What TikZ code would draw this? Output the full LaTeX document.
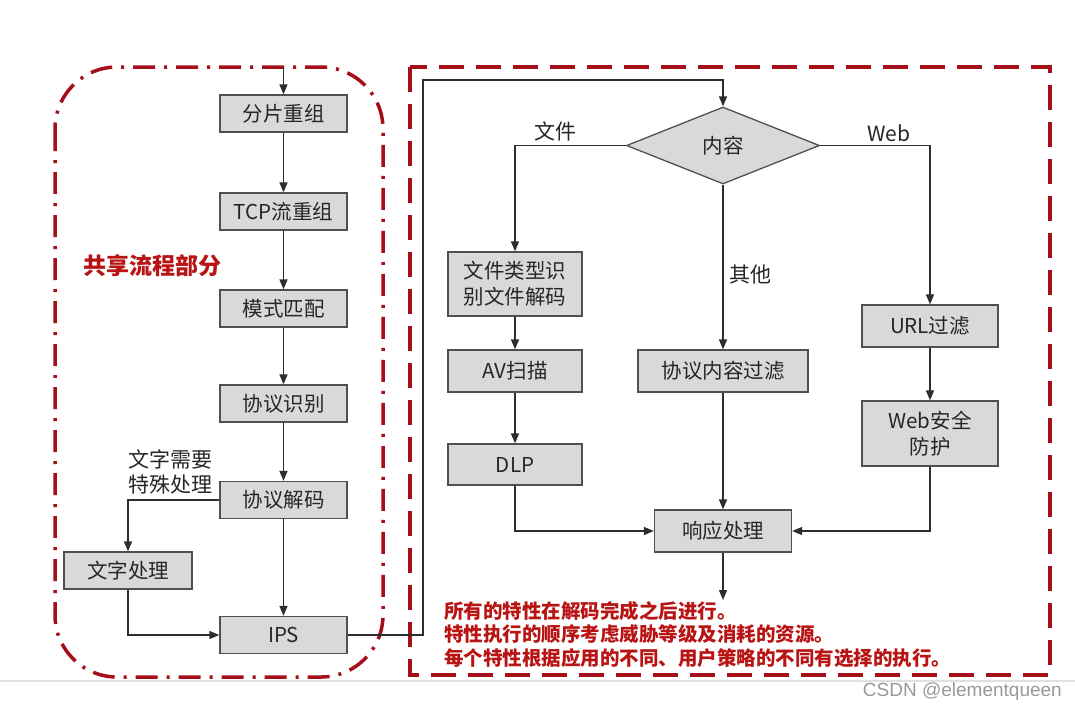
\documentclass[tikz,border=0pt]{standalone}
\usepackage{fontspec}
\newfontfamily\cjk{Noto Sans CJK SC}
\newfontfamily\wmfont{Liberation Sans}
\usetikzlibrary{arrows.meta,shapes.geometric,calc}
\definecolor{boxfill}{RGB}{217,217,217}
\definecolor{boxline}{RGB}{80,80,80}
\definecolor{linec}{RGB}{45,45,45}
\definecolor{framered}{RGB}{165,15,25}
\definecolor{notered}{RGB}{185,20,20}
\tikzset{
  stepbox/.style={draw=boxline, fill=boxfill, line width=1.3pt, inner sep=0pt,
    minimum width=127pt, minimum height=37pt, align=center,
    font=\cjk\fontsize{20.5}{26}\selectfont, text=black!85},
  decision/.style={draw=boxline, fill=boxfill, line width=1.3pt, diamond, inner sep=0pt,
    minimum width=193pt, minimum height=77pt, font=\cjk\fontsize{20.5}{22}\selectfont, text=black!85},
  flow/.style={draw=linec, line width=1.4pt, -{Triangle[length=10pt,width=8pt]}},
  lbl/.style={font=\cjk\fontsize{21}{25}\selectfont, text=black!85, inner sep=0pt, align=center},
  note/.style={font=\cjk\bfseries\fontsize{19.5}{23.5}\selectfont, text=notered, inner sep=0pt, align=left}
}
\begin{document}
\begin{tikzpicture}[x=1pt,y=-1pt]
\useasboundingbox (0,0) rectangle (1075,710);
\fill[white] (0,0) rectangle (1075,710);

% shared-processing frame and per-feature frame
\draw[framered, line width=3.5pt, rounded corners=62pt, dash pattern=on 22pt off 9pt on 3pt off 9pt]
  (55,67) rectangle (383,677);
\draw[framered, line width=3.5pt, dash pattern=on 25pt off 12pt] (410,67) rectangle (1050,675);
\draw[black!12, line width=1.5pt] (0,681) -- (1075,681);

% shared pipeline
\coordinate (entry) at (283.5,67);
\node[stepbox] (frag) at (283.5,113.5) {分片重组};
\node[stepbox] (tcp)  at (283.5,211.5) {TCP流重组};
\node[stepbox] (pat)  at (283.5,308.5) {模式匹配};
\node[stepbox] (pid)  at (283.5,403.5) {协议识别};
\node[stepbox] (dec)  at (283.5,500)   {协议解码};
\node[stepbox, minimum width=128pt] (txt) at (128,570.5) {文字处理};
\node[stepbox] (ips)  at (283.5,635)   {IPS};

\node[font=\cjk\bfseries\fontsize{23}{26}\selectfont, text=notered, inner sep=0pt] (shared) at (152,266) {共享流程部分};
\node[lbl] (special) at (170,472) {文字需要\\特殊处理};

\draw[flow] (entry) -- (frag);
\draw[flow] (frag) -- (tcp);
\draw[flow] (tcp) -- (pat);
\draw[flow] (pat) -- (pid);
\draw[flow] (pid) -- (dec);
\draw[flow] (dec) -- (ips);
\draw[flow] (dec.west) -| (txt.north);
\draw[flow] (txt.south) |- (ips.west);

% content dispatch
\node[decision] (dia) at (723,145.5) {内容};
\node[stepbox, minimum width=134pt, minimum height=64pt] (ftype) at (515,284) {文件类型识\\别文件解码};
\node[stepbox, minimum width=134pt, minimum height=42pt] (av)  at (515,371) {AV扫描};
\node[stepbox, minimum width=134pt, minimum height=41pt] (dlp) at (515,464.5) {DLP};
\node[stepbox, minimum width=170pt, minimum height=42pt] (pcf) at (723,371) {协议内容过滤};
\node[stepbox, minimum width=136pt, minimum height=42pt] (url) at (930,326) {URL过滤};
\node[stepbox, minimum width=136pt, minimum height=65pt] (web) at (930,433.5) {Web安全\\防护};
\node[stepbox, minimum width=137pt, minimum height=42pt] (resp) at (723,531) {响应处理};

\node[lbl] (lfile)  at (555,131) {文件};
\node[lbl] (lweb)   at (889,133) {Web};
\node[lbl] (lother) at (750,275) {其他};

\coordinate (bend) at (423,80);
\coordinate (out) at (723,600);
\draw[flow] (ips.east) -- (ips.east -| bend) -- (bend) -| (dia.north);
\draw[flow] (dia.west) -| (ftype.north);
\draw[flow] (dia.east) -| (url.north);
\draw[flow] (dia.south) -- (pcf.north);
\draw[flow] (ftype) -- (av);
\draw[flow] (av) -- (dlp);
\draw[flow] (url) -- (web);
\draw[flow] (dlp.south) |- (resp.west);
\draw[flow] (web.south) |- (resp.east);
\draw[flow] (pcf) -- (resp);
\draw[flow] (resp) -- (out);

\node[note, anchor=north west] (notes) at (444,601)
  {所有的特性在解码完成之后进行。\\特性执行的顺序考虑威胁等级及消耗的资源。\\每个特性根据应用的不同、用户策略的不同有选择的执行。};

\node[font=\wmfont\fontsize{19}{21}\selectfont, text=black!40, anchor=east, inner sep=0pt] (wm) at (1062,692) {CSDN @elementqueen};
\end{tikzpicture}
\end{document}
